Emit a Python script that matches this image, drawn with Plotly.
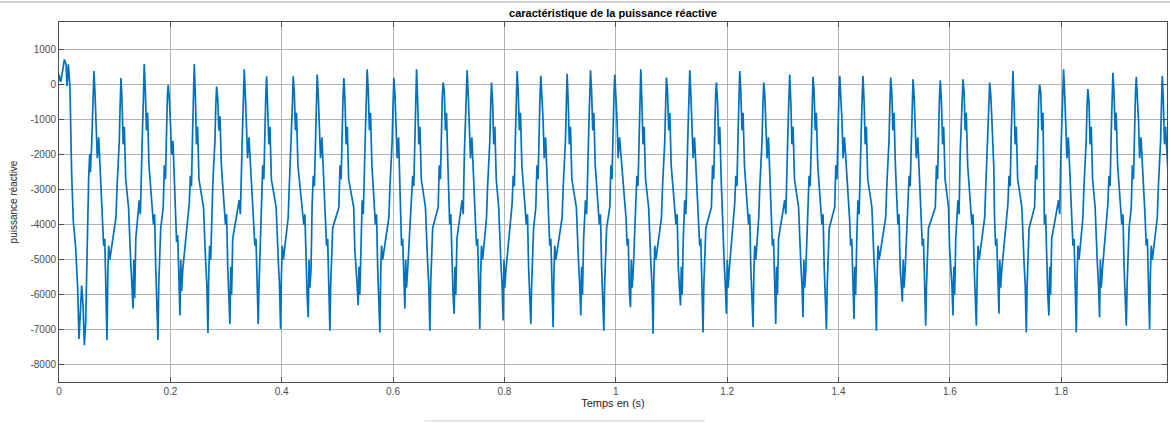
import plotly.graph_objects as go

# ---- data (time in ms, reactive power in var) ----
t_seg_a = [
    0, 2, 3.6, 6.5, 9.6, 12.6, 14.4, 16.8, 19.7, 22.7, 25.7, 29.9, 33.5, 35.9, 38.3, 40.7, 43.1, 45.5, 47.9, 50.9, 53.3, 55.1, 56.3, 58.7, 60.5,
    62.8, 64.8, 66.8, 68.8, 71.3, 78.2, 80.2, 82.2, 84.2, 86.2, 87.7, 89.2, 91.2, 102.3, 104.3, 106.3, 108.3, 109.8,
    111.3, 113.3, 115.3, 117.3, 119.8, 124.9, 126.9, 128.9, 130.9, 132.9, 134.4, 135.9, 137.9, 144.1, 146.1, 148.1, 150.1, 151.6,
    153.1, 155.1, 157.1, 159.1, 161.6, 169.7, 171.7, 173.7, 175.7, 177.7, 179.2, 180.7, 182.7, 187.2, 189.2, 191.2, 193.2, 194.7,
    196.2, 198.2, 200.2, 202.2, 204.7, 209.2, 211.2, 213.2, 215.2, 217.2, 218.7, 220.2, 222.2, 233.9, 235.9, 237.9, 239.9, 241.4,
    242.9, 244.9, 246.9, 248.9, 251.4, 259.5, 261.5, 263.5, 265.5, 267.5, 269.0, 270.5, 272.5, 274.1, 276.1, 278.1, 280.1, 281.6,
    283.1, 285.1, 287.1, 289.1, 291.6, 299.0, 301.0, 303.0, 305.0, 307.0, 308.5, 310.0, 312.0, 323.7, 325.7, 327.7, 329.7, 331.2,
    332.7, 334.7, 336.7, 338.7, 341.2, 349.8, 351.8, 353.8, 355.8, 357.8, 359.3, 360.8, 362.8, 363.9, 365.9, 367.9, 369.9, 371.4,
    372.9, 374.9, 376.9, 378.9, 381.4, 390.0, 392.0, 394.0, 396.0, 398.0, 399.5, 401.0, 403.0, 411.6, 413.6, 415.6, 417.6, 419.1,
    420.6, 422.6, 424.6, 426.6, 429.1, 439.6, 441.6, 443.6, 445.6, 447.6, 449.1, 450.6, 452.6, 454.7, 456.7, 458.7, 460.7, 462.2,
    463.7, 465.7, 467.7, 469.7, 472.2, 478.5, 480.5, 482.5, 484.5, 486.5, 488.0, 489.5, 491.5, 502.7, 504.7, 506.7, 508.7, 510.2,
    511.7, 513.7, 515.7, 517.7, 520.2, 529.3, 531.3, 533.3, 535.3, 537.3, 538.8, 540.3, 542.3, 544.5, 546.5, 548.5, 550.5, 552.0,
]
q_seg_a = [
    300, 120, 110, 450, 730, 590, -30, 590, -80, -2550, -3900, -4650, -5800, -7270, -6550, -5740, -6270, -7450, -6800, -3900, -2650, -1980, -2500, -1700, -740,
    400, -300, -1000, -2100, -1500, -3800, -4600, -4400, -5900, -7300, -5400, -4600, -5000, -3800, -2900, -2200, -1600, -600,
    200, -500, -1700, -1200, -2700, -3500, -4700, -5100, -5700, -6400, -5000, -6100, -4400, -3300, -3700, -2000, -1200, -400,
    600, -200, -1300, -800, -2300, -4000, -3700, -5200, -6000, -7300, -5700, -4800, -4100, -3500, -2300, -2700, -1000, -300,
    0, -400, -1100, -2000, -1600, -3800, -4500, -4300, -5800, -6600, -5000, -5900, -5300, -3400, -2600, -2900, -1400, -500,
    600, -300, -1700, -1200, -2700, -3500, -4700, -5100, -5700, -7100, -5400, -4600, -5000, -3800, -2900, -2200, -1600, -600,
    -50, -400, -1300, -900, -2300, -4000, -3700, -5200, -6000, -6850, -5200, -6000, -4400, -3300, -3700, -2000, -1200, -400,
    450, -300, -1000, -2100, -1500, -3800, -4600, -4400, -5900, -6850, -5700, -4800, -4100, -3500, -2300, -2700, -1000, -300,
    250, -500, -1700, -1200, -2700, -3500, -4700, -5100, -5700, -6980, -5400, -4600, -5000, -3800, -2900, -2200, -1600, -600,
    250, -200, -1300, -800, -2300, -4000, -3700, -5200, -6000, -6650, -5000, -5800, -5300, -3400, -2600, -2900, -1400, -500,
    300, -300, -1000, -2100, -1500, -3800, -4600, -4400, -5900, -7030, -5700, -4800, -4100, -3500, -2300, -2700, -1000, -300,
    200, -500, -1700, -1200, -2700, -3500, -4700, -5100, -5700, -6300, -5200, -6000, -4400, -3300, -3700, -2000, -1200, -400,
]

t_seg_b = [
    553.5, 555.5, 557.5, 559.5, 562.0, 568.3, 570.3, 572.3, 574.3, 576.3, 577.8, 579.3, 581.3, 592.4, 594.4, 596.4, 598.4, 599.9,
    601.4, 603.4, 605.4, 607.4, 609.9, 613.2, 615.2, 617.2, 619.2, 621.2, 622.7, 624.2, 626.2, 633.2, 635.2, 637.2, 639.2, 640.7,
    642.2, 644.2, 646.2, 648.2, 650.7, 658.1, 660.1, 662.1, 664.1, 666.1, 667.6, 669.1, 671.1, 681.0, 683.0, 685.0, 687.0, 688.5,
    690.0, 692.0, 694.0, 696.0, 698.5, 701.7, 703.7, 705.7, 707.7, 709.7, 711.2, 712.7, 714.7, 724.0, 726.0, 728.0, 730.0, 731.5,
    733.0, 735.0, 737.0, 739.0, 741.5, 747.8, 749.8, 751.8, 753.8, 755.8, 757.3, 758.8, 760.8, 767.8, 769.8, 771.8, 773.8, 775.3,
    776.8, 778.8, 780.8, 782.8, 785.3, 789.7, 791.7, 793.7, 795.7, 797.7, 799.2, 800.7, 802.7, 813.8, 815.8, 817.8, 819.8, 821.3,
    822.8, 824.8, 826.8, 828.8, 831.3, 839.4, 841.4, 843.4, 845.4, 847.4, 848.9, 850.4, 852.4, 856.4, 858.4, 860.4, 862.4, 863.9,
    865.4, 867.4, 869.4, 871.4, 873.9, 879.4, 881.4, 883.4, 885.4, 887.4, 888.9, 890.4, 892.4, 903.6, 905.6, 907.6, 909.6, 911.1,
    912.6, 914.6, 916.6, 918.6, 921.1, 929.2, 931.2, 933.2, 935.2, 937.2, 938.7, 940.2, 942.2, 945.6, 947.6, 949.6, 951.6, 953.1,
    954.6, 956.6, 958.6, 960.6, 963.1, 970.5, 972.5, 974.5, 976.5, 978.5, 980.0, 981.5, 983.5, 989.2, 991.2, 993.2, 995.2, 996.7,
    998.2, 1000.2, 1002.2, 1004.2, 1006.7, 1018.4, 1020.4, 1022.4, 1024.4, 1026.4, 1027.9, 1029.4, 1031.4, 1035.9, 1037.9, 1039.9, 1041.9, 1043.4,
]
q_seg_b = [
    450, -200, -1300, -800, -2300, -4000, -3700, -5200, -6000, -7080, -5400, -4600, -5000, -3800, -2900, -2200, -1600, -600,
    200, -300, -1000, -2100, -1500, -3800, -4600, -4400, -5900, -6400, -5000, -5800, -5300, -3400, -2600, -2900, -1400, -500,
    450, -500, -1700, -1200, -2700, -3500, -4700, -5100, -5700, -7030, -5700, -4800, -4100, -3500, -2300, -2700, -1000, -300,
    70, -200, -1300, -800, -2300, -4000, -3700, -5200, -6000, -6550, -5200, -6000, -4400, -3300, -3700, -2000, -1200, -400,
    420, -300, -1000, -2100, -1500, -3800, -4600, -4400, -5900, -6980, -5400, -4600, -5000, -3800, -2900, -2200, -1600, -600,
    70, -500, -1700, -1200, -2700, -3500, -4700, -5100, -5700, -6740, -5000, -5800, -5300, -3400, -2600, -2900, -1400, -500,
    400, -200, -1300, -800, -2300, -4000, -3700, -5200, -6000, -6840, -5700, -4800, -4100, -3500, -2300, -2700, -1000, -300,
    260, -300, -1000, -2100, -1500, -3800, -4600, -4400, -5900, -6930, -5400, -4600, -5000, -3800, -2900, -2200, -1600, -600,
    320, -500, -1700, -1200, -2700, -3500, -4700, -5100, -5700, -6600, -5200, -6000, -4400, -3300, -3700, -2000, -1200, -400,
    420, -200, -1300, -800, -2300, -4000, -3700, -5200, -6000, -7030, -5700, -4800, -4100, -3500, -2300, -2700, -1000, -300,
    300, -300, -1000, -2100, -1500, -3800, -4600, -4400, -5900, -6360, -5000, -5800, -5300, -3400, -2600, -2900, -1400, -500,
]

t_seg_c = [
    1044.9, 1046.9, 1048.9, 1050.9, 1053.4, 1059.0, 1061.0, 1063.0, 1065.0, 1067.0, 1068.5, 1070.0, 1072.0, 1082.0, 1084.0, 1086.0, 1088.0, 1089.5,
    1091.0, 1093.0, 1095.0, 1097.0, 1099.5, 1108.2, 1110.2, 1112.2, 1114.2, 1116.2, 1117.7, 1119.2, 1121.2, 1123.9, 1125.9, 1127.9, 1129.9, 1131.4,
    1132.9, 1134.9, 1136.9, 1138.9, 1141.4, 1148.7, 1150.7, 1152.7, 1154.7, 1156.7, 1158.2, 1159.7, 1161.7, 1171.8, 1173.8, 1175.8, 1177.8, 1179.3,
    1180.8, 1182.8, 1184.8, 1186.8, 1189.3, 1190.7, 1192.7, 1194.7, 1196.7, 1198.7, 1200.2, 1201.7, 1203.7, 1213.6, 1215.6, 1217.6, 1219.6, 1221.1,
    1222.6, 1224.6, 1226.6, 1228.6, 1231.1, 1238.5, 1240.5, 1242.5, 1244.5, 1246.5, 1248.0, 1249.5, 1251.5, 1256.7, 1258.7, 1260.7, 1262.7, 1264.2,
    1265.7, 1267.7, 1269.7, 1271.7, 1274.2, 1279.3, 1281.3, 1283.3, 1285.3, 1287.3, 1288.8, 1290.3, 1292.3, 1303.4, 1305.4, 1307.4, 1309.4, 1310.9,
    1312.4, 1314.4, 1316.4, 1318.4, 1320.9, 1328.3, 1330.3, 1332.3, 1334.3, 1336.3, 1337.8, 1339.3, 1341.3, 1345.2, 1347.2, 1349.2, 1351.2, 1352.7,
    1354.2, 1356.2, 1358.2, 1360.2, 1362.7, 1370.3, 1372.3, 1374.3, 1376.3, 1378.3, 1379.8, 1381.3, 1383.3, 1393.2, 1395.2, 1397.2, 1399.2, 1400.7,
    1402.2, 1404.2, 1406.2, 1408.2, 1410.7, 1419.8, 1421.8, 1423.8, 1425.8, 1427.8, 1429.3, 1430.8, 1432.8, 1435.0, 1437.0, 1439.0, 1441.0, 1442.5,
    1444.0, 1446.0, 1448.0, 1450.0, 1452.5, 1460.0, 1462.0, 1464.0, 1466.0, 1468.0, 1469.5, 1471.0, 1473.0, 1484.7, 1486.7, 1488.7, 1490.7, 1492.2,
    1493.7, 1495.7, 1497.7, 1499.7, 1502.2, 1506.7, 1508.7, 1510.7, 1512.7, 1514.7, 1516.2, 1517.7, 1519.7, 1524.8, 1526.8, 1528.8, 1530.8, 1532.3,
]
q_seg_c = [
    450, -500, -1700, -1200, -2700, -3500, -4700, -5100, -5700, -7120, -5400, -4600, -5000, -3800, -2900, -2200, -1600, -600,
    210, -200, -1300, -800, -2300, -4000, -3700, -5200, -5700, -6310, -5200, -6000, -4400, -3300, -3700, -2000, -1200, -400,
    420, -300, -1000, -2100, -1500, -3800, -4600, -4400, -5900, -7080, -5700, -4800, -4100, -3500, -2300, -2700, -1000, -300,
    70, -500, -1700, -1200, -2700, -3500, -4700, -5100, -5700, -6550, -5000, -5800, -5300, -3400, -2600, -2900, -1400, -500,
    400, -200, -1300, -800, -2300, -4000, -3700, -5200, -6000, -6930, -5400, -4600, -5000, -3800, -2900, -2200, -1600, -600,
    70, -300, -1000, -2100, -1500, -3800, -4600, -4400, -5900, -6840, -5200, -6000, -4400, -3300, -3700, -2000, -1200, -400,
    300, -500, -1700, -1200, -2700, -3500, -4700, -5100, -5700, -6650, -5000, -5800, -5300, -3400, -2600, -2900, -1400, -500,
    230, -200, -1300, -800, -2300, -4000, -3700, -5200, -6000, -6980, -5700, -4800, -4100, -3500, -2300, -2700, -1000, -300,
    260, -300, -1000, -2100, -1500, -3800, -4600, -4400, -5900, -6700, -5200, -6000, -4400, -3300, -3700, -2000, -1200, -400,
    260, -500, -1700, -1200, -2700, -3500, -4700, -5100, -5700, -7030, -5400, -4600, -5000, -3800, -2900, -2200, -1600, -600,
    210, -200, -1300, -800, -2300, -4000, -3700, -5200, -5600, -6200, -5000, -5800, -5300, -3400, -2600, -2900, -1400, -500,
]

t_seg_d = [
    1533.8, 1535.8, 1537.8, 1539.8, 1542.3, 1548.6, 1550.6, 1552.6, 1554.6, 1556.6, 1558.1, 1559.6, 1561.6, 1573.9, 1575.9, 1577.9, 1579.9, 1581.4,
    1582.9, 1584.9, 1586.9, 1588.9, 1591.4, 1597.6, 1599.6, 1601.6, 1603.6, 1605.6, 1607.1, 1608.6, 1610.6, 1614.5, 1616.5, 1618.5, 1620.5, 1622.0,
    1623.5, 1625.5, 1627.5, 1629.5, 1632.0, 1639.6, 1641.6, 1643.6, 1645.6, 1647.6, 1649.1, 1650.6, 1652.6, 1662.5, 1664.5, 1666.5, 1668.5, 1670.0,
    1671.5, 1673.5, 1675.5, 1677.5, 1679.0, 1680.2, 1682.2, 1684.2, 1686.2, 1688.2, 1689.7, 1691.2, 1693.2, 1704.3, 1706.3, 1708.3, 1710.3, 1711.8,
    1713.3, 1715.3, 1717.3, 1719.3, 1721.8, 1729.3, 1731.3, 1733.3, 1735.3, 1737.3, 1738.8, 1740.3, 1742.3, 1752.2, 1754.2, 1756.2, 1758.2, 1759.7,
    1761.2, 1763.2, 1765.2, 1767.2, 1768.8, 1769.9, 1771.9, 1773.9, 1775.9, 1777.9, 1779.4, 1780.9, 1782.9, 1795.3, 1797.3, 1799.3, 1801.3, 1802.8,
    1804.3, 1806.3, 1808.3, 1810.3, 1812.8, 1819.1, 1821.1, 1823.1, 1825.1, 1827.1, 1828.6, 1830.1, 1832.1, 1838.9, 1840.9, 1842.9, 1844.9, 1846.4,
    1847.9, 1849.9, 1851.9, 1853.9, 1856.4, 1860.9, 1862.9, 1864.9, 1866.9, 1868.9, 1870.4, 1871.9, 1873.9, 1883.8, 1885.8, 1887.8, 1889.8, 1891.3,
    1892.8, 1894.8, 1896.8, 1898.8, 1901.3, 1908.9, 1910.9, 1912.9, 1914.9, 1916.9, 1918.4, 1919.9, 1921.9, 1925.8, 1927.8, 1929.8, 1931.8, 1933.3,
    1934.8, 1936.8, 1938.8, 1940.8, 1943.3, 1950.7, 1952.7, 1954.7, 1956.7, 1958.7, 1960.2, 1961.7, 1963.7, 1972.5, 1974.5, 1976.5, 1978.5, 1980.0,
    1981.5, 1983.5, 1985.5, 1987.5, 1990.0, 1992.0,
]
q_seg_d = [
    160, -300, -1000, -2100, -1500, -3800, -4600, -4400, -5900, -6890, -5700, -4800, -4100, -3500, -2300, -2700, -1000, -300,
    130, -500, -1700, -1200, -2700, -3500, -4700, -5100, -5700, -6600, -5200, -6000, -4400, -3300, -3700, -2000, -1200, -400,
    160, -200, -1300, -800, -2300, -4000, -3700, -5200, -6000, -6890, -5400, -4600, -5000, -3800, -2900, -2200, -1600, -600,
    70, -300, -1000, -2100, -2400, -3800, -4600, -4400, -5900, -6550, -5000, -5800, -5300, -3400, -2600, -2900, -1400, -500,
    400, -500, -1700, -1200, -2700, -3500, -4700, -5100, -5700, -7080, -5700, -4800, -4100, -3500, -2300, -2700, -1000, -300,
    0, -200, -1300, -800, -2800, -4000, -3700, -5200, -6000, -6600, -5200, -6000, -4400, -3300, -3700, -2000, -1200, -400,
    450, -300, -1000, -2100, -1500, -3800, -4600, -4400, -5900, -7080, -5400, -4600, -5000, -3800, -2900, -2200, -1600, -600,
    -120, -500, -1700, -1200, -2700, -3500, -4700, -5100, -5700, -6650, -5000, -5800, -5300, -3400, -2600, -2900, -1400, -500,
    350, -200, -1300, -800, -2300, -4000, -3700, -5200, -6000, -6890, -5700, -4800, -4100, -3500, -2300, -2700, -1000, -300,
    230, -300, -1000, -2100, -1500, -3800, -4600, -4400, -5900, -6980, -5400, -4600, -5000, -3800, -2900, -2200, -1600, -600,
    260, -500, -1700, -1200, -2300, -2600,
]

x_ticks = [0, 0.2, 0.4, 0.6, 0.8, 1.0, 1.2, 1.4, 1.6, 1.8]
x_tick_labels = ["0", "0.2", "0.4", "0.6", "0.8", "1", "1.2", "1.4", "1.6", "1.8"]
y_ticks = [1000, 0, -1000, -2000, -3000, -4000, -5000, -6000, -7000, -8000]
y_tick_labels = ["1000", "0", "-1000", "-2000", "-3000", "-4000", "-5000", "-6000", "-7000", "-8000"]

title_text = "caractéristique de la puissance réactive"
x_title = "Temps en (s)"
y_title = "puissance réactive"

# ---- build series (ms -> s) ----
t_ms = t_seg_a + t_seg_b + t_seg_c + t_seg_d
q_var = q_seg_a + q_seg_b + q_seg_c + q_seg_d
t_s = [v / 1000.0 for v in t_ms]

FONT = "Liberation Sans, Arial, Helvetica, sans-serif"
AX = "#262626"

fig = go.Figure()
fig.add_trace(go.Scatter(
    x=t_s, y=q_var, mode="lines",
    line=dict(color="#0072BD", width=1.7),
    showlegend=False, hoverinfo="x+y",
))

axis_common = dict(
    showgrid=True, gridcolor="#b3b3b3", gridwidth=1,
    showline=True, linecolor="#4d4d4d", linewidth=1, mirror="allticks",
    ticks="inside", ticklen=5, tickcolor="#4d4d4d",
    tickfont=dict(family=FONT, size=10, color="#4d4d4d"),
    zeroline=False,
)

fig.update_layout(
    width=1170, height=423, autosize=False,
    paper_bgcolor="white", plot_bgcolor="white",
    margin=dict(l=59, r=3, t=22, b=41),
    title=dict(text="<b>" + title_text + "</b>", x=0.5239, xanchor="center",
               y=0.969, yanchor="middle", yref="container",
               font=dict(family=FONT, size=11, color="#000000")),
    xaxis=dict(range=[0, 1.99], tickmode="array", tickvals=x_ticks, ticktext=x_tick_labels,
               title=dict(text=x_title, standoff=3, font=dict(family=FONT, size=11, color=AX)),
               **axis_common),
    yaxis=dict(range=[-8500, 1800], tickmode="array", tickvals=y_ticks, ticktext=y_tick_labels,
               title=dict(text=y_title, standoff=10, font=dict(family=FONT, size=10, color=AX)),
               **axis_common),
    shapes=[
        dict(type="line", xref="paper", yref="paper",
             x0=-0.06, x1=1.01, y0=1.0556, y1=1.0556,
             line=dict(color="#a0a0a0", width=1)),
        dict(type="line", xref="paper", yref="paper",
             x0=0.330, x1=0.583, y0=-0.108, y1=-0.108,
             line=dict(color="#d0d0d0", width=1)),
    ],
)

fig.write_html("out.html", config={"displayModeBar": False},
               post_script="document.body.style.margin='0';document.body.style.overflow='hidden';")
